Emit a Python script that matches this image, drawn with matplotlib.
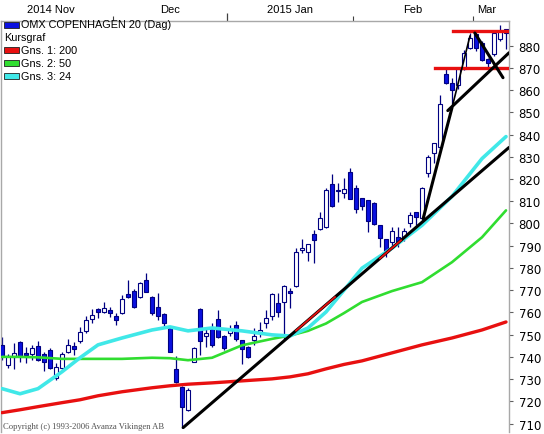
import matplotlib
matplotlib.use("Agg")
import matplotlib.pyplot as plt
from matplotlib.patches import Rectangle

# OHLC for OMX Copenhagen 20, one entry per trading day (Nov 2014 - early Mar 2015)
opens = [745.4, 736.4, 740.0, 746.7, 741.8, 741.4, 744.9, 741.4, 743.1, 730.6,
         735.1, 742.2, 744.9, 747.2, 751.7, 757.0, 761.5, 760.2, 761.1, 758.4,
         759.7, 768.3, 769.6, 766.9, 774.5, 766.9, 762.4, 759.3, 753.0, 734.6,
         726.6, 716.2, 737.8, 761.5, 749.4, 753.0, 757.0, 749.4, 750.8, 754.4,
         747.6, 744.5, 747.6, 751.2, 755.3, 758.4, 764.2, 764.7, 769.6, 771.8,
         788.0, 787.1, 795.2, 797.4, 798.3, 817.6, 814.9, 813.5, 823.0, 815.8,
         811.3, 810.4, 809.1, 799.2, 792.9, 791.6, 793.8, 793.4, 800.1, 805.0,
         802.3, 822.5, 831.5, 834.2, 867.4, 863.3, 862.4, 869.6, 879.0, 885.3,
         881.3, 874.1, 876.3, 883.0, 885.7]
highs = [749.0, 741.4, 746.3, 747.0, 744.5, 745.4, 747.2, 742.2, 744.0, 737.3,
         742.2, 748.1, 746.7, 753.5, 758.4, 761.5, 762.0, 764.7, 762.4, 759.7,
         767.8, 774.5, 770.5, 773.6, 777.7, 767.2, 768.7, 759.6, 753.5, 740.5,
         726.8, 726.0, 744.5, 761.8, 753.0, 755.3, 761.1, 749.7, 754.4, 756.2,
         747.8, 744.8, 753.0, 755.7, 761.1, 768.7, 768.7, 772.3, 770.9, 788.9,
         792.9, 790.7, 797.0, 805.0, 815.8, 822.1, 818.0, 820.3, 824.8, 817.2,
         811.5, 810.6, 809.5, 799.4, 793.1, 798.3, 798.3, 797.8, 805.0, 805.2,
         816.2, 830.6, 836.4, 858.0, 869.6, 865.6, 870.0, 878.0, 885.7, 886.6,
         882.2, 874.5, 886.6, 889.3, 887.5]
lows = [738.7, 735.1, 734.6, 737.8, 737.3, 738.7, 738.3, 733.7, 734.6, 729.7,
        734.6, 741.8, 740.9, 746.3, 750.8, 755.3, 757.5, 759.7, 758.0, 754.4,
        759.3, 766.5, 762.0, 766.5, 769.0, 758.8, 756.6, 753.0, 742.0, 728.3,
        708.2, 715.8, 737.5, 740.9, 744.5, 744.5, 748.5, 743.1, 749.4, 747.2,
        736.9, 739.5, 745.4, 749.0, 753.0, 756.6, 758.0, 747.6, 762.0, 771.4,
        786.6, 783.1, 782.2, 797.0, 797.8, 807.3, 809.5, 811.3, 810.9, 804.6,
        806.0, 796.1, 799.2, 789.3, 784.8, 788.9, 789.3, 792.0, 798.3, 799.2,
        801.4, 820.7, 827.0, 833.0, 862.9, 853.9, 860.5, 869.0, 878.6, 877.7,
        873.2, 870.0, 875.4, 882.2, 878.6]
closes = [740.0, 740.5, 741.8, 740.0, 740.9, 744.0, 738.7, 737.8, 735.1, 735.5,
          741.4, 745.4, 743.6, 751.2, 756.6, 758.8, 760.2, 762.0, 759.7, 756.6,
          766.0, 767.0, 762.4, 773.2, 769.2, 759.7, 758.4, 755.3, 742.2, 728.8,
          717.6, 725.2, 744.0, 747.2, 750.8, 745.4, 749.0, 744.0, 752.6, 748.1,
          743.6, 740.0, 749.4, 752.1, 757.5, 768.2, 760.2, 771.8, 768.7, 787.1,
          788.9, 790.7, 792.5, 802.3, 814.9, 807.7, 814.6, 815.3, 811.0, 806.4,
          807.7, 801.0, 799.6, 793.4, 787.1, 796.5, 791.6, 796.5, 803.7, 802.8,
          815.8, 830.1, 836.0, 853.9, 863.3, 860.2, 869.6, 876.8, 883.5, 879.0,
          873.6, 872.3, 885.7, 886.6, 887.5]

# moving averages read at selected days
ma_days = [0, 3, 6, 10, 13, 16, 20, 25, 28, 31, 35, 40, 45, 48, 51, 54, 57, 60, 65, 70, 75, 80, 84]
ma200 = [714.9, 716.2, 717.6, 719.4, 720.7, 722.5, 724.3, 726.1, 727.0, 727.7, 728.3, 729.2,
         730.1, 731.0, 732.4, 734.6, 736.6, 738.2, 741.8, 745.4, 748.5, 752.1, 755.7]
ma50 = [740.0, 740.0, 739.8, 739.1, 739.1, 739.1, 739.1, 739.6, 739.4, 738.5, 739.6, 745.2,
        748.1, 749.6, 751.7, 755.0, 759.7, 764.7, 769.6, 773.6, 782.6, 793.8, 805.9]
ma24 = [725.7, 723.4, 725.7, 733.3, 739.6, 745.4, 748.5, 752.1, 753.5, 751.7, 753.0, 751.7,
        749.9, 749.4, 753.0, 760.2, 770.0, 779.9, 788.9, 799.2, 812.2, 829.2, 839.1]

# hand-drawn trend lines (day, value) pairs
trend_lines = [
    ([30.2, 84.5], [708.2, 834.2], 2.2),
    ([70.2, 75.0], [802.3, 852.1], 2.2),
    ([75.0, 78.0], [852.1, 884.4], 1.2),
    ([74.3, 84.5], [850.8, 876.8], 2.2),
    ([78.8, 83.5], [885.7, 865.6], 2.2),
]
# stretches of the long trend line drawn over the 24-day average (shown inverted, red)
overlap_spans = [(49.0, 55.5), (63.0, 66.5)]
support_levels = [(72.2, 870.0), (75.2, 886.5)]

month_bounds = [18.5, 58.5, 78.5]
year_bound = [37.5]
month_labels = ["2014 Nov", "Dec", "2015 Jan", "Feb", "Mar"]
month_label_pos = [8.2, 28, 48, 68.5, 80.7]

W, H = 544, 435
fig = plt.figure(figsize=(W / 100, H / 100), dpi=100)
ax = fig.add_axes([1 / W, 2 / H, 508 / W, 411 / H])
plt.rcParams['font.family'] = ['Liberation Sans', 'DejaVu Sans']

navy = '#000080'
blue = '#0a10e0'
red = '#e81010'
for i in range(len(opens)):
    o, h, l, c = opens[i], highs[i], lows[i], closes[i]
    ax.plot([i, i], [l, h], color=navy, lw=0.9, zorder=2, solid_capstyle='butt')
    bottom = min(o, c)
    height = max(abs(c - o), 0.4)
    face = 'white' if c > o else blue
    ax.add_patch(Rectangle((i - 0.37, bottom), 0.74, height, facecolor=face,
                           edgecolor=navy, lw=0.8, zorder=3))

ax.plot(ma_days, ma200, color=red, lw=2.4, zorder=4, solid_capstyle='round', solid_joinstyle='round')
ax.plot(ma_days, ma50, color='#30dd30', lw=1.9, zorder=4, solid_capstyle='round', solid_joinstyle='round')
ax.plot(ma_days, ma24, color='#40e8e8', lw=2.6, zorder=4, solid_capstyle='round', solid_joinstyle='round')

for xs, ys, lw in trend_lines:
    ax.plot(xs, ys, color='black', lw=lw, zorder=6, solid_capstyle='round')

# inverted colour where the long trend line lies on the cyan average
(x0, x1), (y0, y1) = trend_lines[0][0], trend_lines[0][1]
slope = (y1 - y0) / (x1 - x0)
for a, b in overlap_spans:
    ax.plot([a, b], [y0 + slope * (a - x0), y0 + slope * (b - x0)], color=red, lw=1.3, zorder=7)

for start, level in support_levels:
    ax.plot([start, 84.5], [level, level], color=red, lw=2.4, zorder=5)

ax.set_xlim(-0.17, 84.5)
ax.set_ylim(706.2, 891.1)

# axes look
for side in ['top', 'right', 'left']:
    ax.spines[side].set_color('#a8a8a8')
    ax.spines[side].set_linewidth(1.0)
ax.spines['bottom'].set_visible(False)

ax.yaxis.tick_right()
ax.set_yticks(range(710, 890, 10))
ax.tick_params(axis='y', length=3, width=0.8, color='#606060', pad=4, labelsize=8.5)

ax.xaxis.tick_top()
ax.set_xticks(month_bounds)
ax.set_xticks(year_bound, minor=True)
ax.set_xticklabels([])
ax.tick_params(axis='x', which='major', length=3.5, width=0.8, color='#404040')
ax.tick_params(axis='x', which='minor', length=5.5, width=0.9, color='#404040')
for lab, pos in zip(month_labels, month_label_pos):
    ax.text(pos, 1 + 12 / 411, lab, transform=ax.get_xaxis_transform(),
            ha='center', va='center', fontsize=8)

# legend drawn by hand
def fx(x):
    return x / W

def fy(y):
    return 1 - y / H

legend_rows = [("OMX COPENHAGEN 20 (Dag)", blue), ("Kursgraf", None),
               ("Gns. 1: 200", red), ("Gns. 2: 50", '#30dd30'), ("Gns. 3: 24", '#40e8e8')]
for k, (txt, col) in enumerate(legend_rows):
    yc = 25.5 + 12.9 * k
    if col is None:
        fig.text(fx(4), fy(yc), txt, ha='left', va='center', fontsize=7.8)
    else:
        fig.patches.append(Rectangle((fx(4), fy(yc + 3)), 15 / W, 6 / H, facecolor=col,
                                     edgecolor='#202020', lw=0.6, transform=fig.transFigure))
        fig.text(fx(21), fy(yc), txt, ha='left', va='center', fontsize=7.8)

fig.text(fx(3), fy(427), "Copyright (c) 1993-2006 Avanza Vikingen AB", ha='left', va='center',
         fontsize=6.2, family=['Liberation Serif', 'DejaVu Serif'], color='#505050')

fig.savefig("out.png", dpi=100)
